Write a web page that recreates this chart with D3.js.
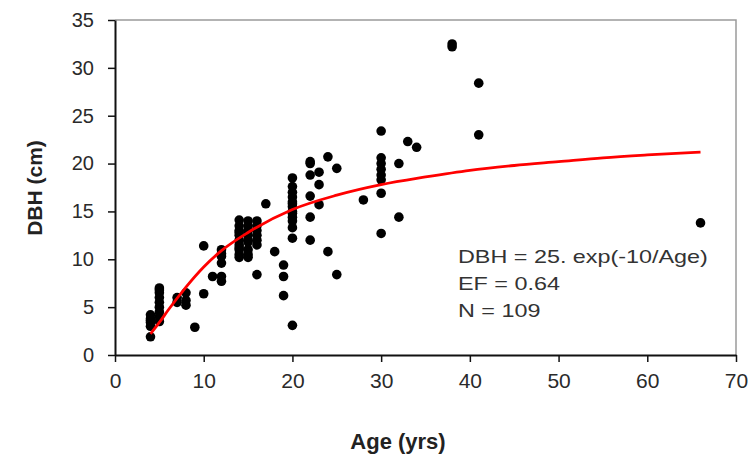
<!DOCTYPE html>
<html>
<head>
<meta charset="utf-8">
<title>DBH vs Age</title>
<script src="https://cdn.jsdelivr.net/npm/d3@7"></script>
<style>
  body { margin: 0; background: #fff; }
  svg { display: block; }
</style>
</head>
<body>
<script>
// ages and DBH (many overlap)
const ages = [4,4,4,4,4, 5,5,5,5,5,5,5,5, 7,7, 8,8,8, 9, 10,10, 11, 12,12,12,12,12,
  14,14,14,14,14,14,14,14,14, 15,15,15,15,15,15,15, 16,16,16,16,16,16, 17, 18, 19,19,19,
  20,20,20,20,20,20,20,20,20,20,20,20, 22,22,22,22,22,22, 23,23,23, 24,24, 25,25, 28,
  30,30,30,30,30,30,30,30, 32,32, 33, 34, 38,38, 41, 41, 66,
  15,14,16,20,20,14,15,12,5,4];
const dbh = [1.9,3.0,3.4,3.8,4.2, 7.0,6.5,6.0,5.5,5.0,4.5,4.0,3.5, 5.5,6.0, 6.5,5.7,5.2, 2.9, 11.4,6.4, 8.2, 11.0,10.3,9.6,8.2,7.7,
  14.1,13.5,13.0,12.5,12.0,11.5,11.0,10.5,10.2, 14.0,13.5,13.0,12.0,11.0,10.5,10.2, 14.0,13.0,12.5,12.0,11.5,8.4, 15.8, 10.8, 9.4,8.2,6.2,
  18.5,17.6,17.0,16.5,16.0,15.5,15.0,14.4,13.3,12.2,3.1,14.8, 20.2,20.0,18.8,16.6,14.4,12.0, 19.1,17.8,15.7, 20.7,10.8, 19.5,8.4, 16.2,
  23.4,20.6,20.0,19.4,18.8,18.3,16.9,12.7, 20.0,14.4, 22.3, 21.7, 32.5,32.2, 28.4, 23.0, 13.8,
  12.5,12.8,13.5,15.8,14.0,11.2,11.8,10.6,6.8,3.6];

// fitted curve
const curveAge = [4,5,6,8,10,12,15,20,25,30,35,40,45,50,55,60,66];
const curveDbh = [2.2,3.4,4.7,7.1,9.2,10.9,12.8,15.2,16.7,17.8,18.6,19.3,19.8,20.2,20.6,20.9,21.2];

const xTicks = [0,10,20,30,40,50,60,70];
const yTicks = [0,5,10,15,20,25,30,35];
const notes = ['DBH = 25. exp(-10/Age)', 'EF = 0.64', 'N = 109'];

const W = 749, H = 457;
const m = {left: 115, right: 13, top: 20, bottom: 102};

const svg = d3.select('body').append('svg').attr('width', W).attr('height', H);

const x = d3.scaleLinear().domain([0, 70]).range([m.left, W - m.right]);
const y = d3.scaleLinear().domain([0, 35]).range([H - m.bottom, m.top]);

const sans = '"Liberation Sans", Arial, sans-serif';
const narrow = '"Liberation Sans Narrow", "Liberation Sans", Arial, sans-serif';

// grey plot frame (top and right)
svg.append('path')
  .attr('d', 'M' + x(0) + ',' + y(35) + 'H' + x(70) + 'V' + y(0))
  .attr('fill', 'none').attr('stroke', '#9a9a9a').attr('stroke-width', 1.5);

const xAxis = svg.append('g')
  .attr('transform', 'translate(0,' + y(0) + ')')
  .call(d3.axisBottom(x).tickValues(xTicks).tickSize(7).tickSizeOuter(0).tickPadding(11));
const yAxis = svg.append('g')
  .attr('transform', 'translate(' + x(0) + ',0)')
  .call(d3.axisLeft(y).tickValues(yTicks).tickSize(7).tickSizeOuter(0).tickPadding(14));

[xAxis, yAxis].forEach(function(a) {
  a.select('.domain').attr('stroke', '#111').attr('stroke-width', 2);
  a.selectAll('line').attr('stroke', '#111').attr('stroke-width', 1.5);
  a.selectAll('text').attr('fill', '#2a2a2a');
});
xAxis.selectAll('text').style('font-family', sans).style('font-size', '21px');
yAxis.selectAll('text').style('font-family', narrow).style('font-size', '20px');

// points
svg.append('g').selectAll('circle').data(ages).enter().append('circle')
  .attr('cx', function(d) { return x(d); })
  .attr('cy', function(d, i) { return y(dbh[i]); })
  .attr('r', 4.8)
  .attr('fill', '#000');

// red fit line
const line = d3.line()
  .x(function(d, i) { return x(curveAge[i]); })
  .y(function(d) { return y(d); })
  .curve(d3.curveMonotoneX);
svg.append('path').datum(curveDbh)
  .attr('d', line)
  .attr('fill', 'none').attr('stroke', '#ff0000').attr('stroke-width', 2.8);

// annotation, stretched a little wider like the original
const note = svg.append('g');
note.selectAll('text').data(notes).enter().append('text')
  .attr('x', 0)
  .attr('y', function(d, i) { return i * 27; })
  .text(function(d) { return d; })
  .style('font-family', sans)
  .style('font-size', '19px')
  .attr('fill', '#333');
const nw = note.select('text').node().getComputedTextLength();
note.attr('transform', 'translate(458,263) scale(' + (250 / nw) + ',1)');

// axis titles
svg.append('text').text('Age (yrs)')
  .attr('x', 398).attr('y', 449)
  .attr('text-anchor', 'middle')
  .style('font-family', sans)
  .style('font-size', '22px').style('font-weight', 'bold').attr('fill', '#222');

svg.append('text').text('DBH (cm)')
  .attr('transform', 'translate(42,188) rotate(-90)')
  .attr('text-anchor', 'middle')
  .style('font-family', sans)
  .style('font-size', '21px').style('font-weight', 'bold').attr('fill', '#222');
</script>
</body>
</html>
